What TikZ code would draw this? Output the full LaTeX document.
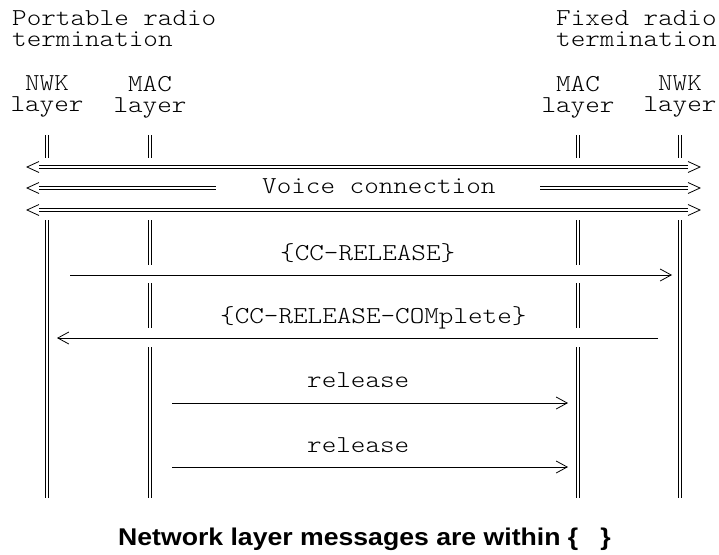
\documentclass[tikz,border=0pt]{standalone}
\usepackage{fontspec}
\newfontfamily\asciifont[FakeStretch=1.143]{lmmonolt10-regular.otf}
\newfontfamily\notefont[FakeStretch=1.1]{Liberation Sans}
\usetikzlibrary{arrows.meta}

\tikzset{
    txt/.style={font=\asciifont\fontsize{24.3}{21}\selectfont, inner sep=0pt},
    head/.style={txt, align=center, anchor=north},
    dbl/.style={line width=0.8pt, double, double distance=2.2pt},
    chev/.style={line width=0.8pt},
    msg/.style={line width=0.8pt, -{Straight Barb[length=11pt, width=12pt, line width=0.8pt]}},
}

\begin{document}
\begin{tikzpicture}[x=1pt, y=-1pt]
    \useasboundingbox (0,0) rectangle (719,554);

    \node[txt, align=left, anchor=north west] (prt) at (12, 10.7) {Portable radio\\termination};
    \node[txt, align=left, anchor=north west] (frt) at (556, 10.7) {Fixed radio\\termination};

    \node[head] (pnwk) at (47, 75.9) {NWK\\layer};
    \node[head] (pmac) at (150, 75.9) {MAC\\layer};
    \node[head] (fmac) at (578, 75.9) {MAC\\layer};
    \node[head] (fnwk) at (680, 75.9) {NWK\\layer};

    \draw[dbl] (47, 135) -- (47, 158);
    \draw[dbl] (150, 135) -- (150, 158);
    \draw[dbl] (578, 135) -- (578, 158);
    \draw[dbl] (680, 135) -- (680, 158);

    \coordinate (la1) at (27, 167);
    \coordinate (la2) at (27, 188);
    \coordinate (la3) at (27, 210);
    \coordinate (ra1) at (700, 167);
    \coordinate (ra2) at (700, 188);
    \coordinate (ra3) at (700, 210);
    \coordinate (l1) at (39, 167);
    \coordinate (r1) at (688, 167);
    \coordinate (l2) at (39, 188);
    \coordinate (l2e) at (216, 188);
    \coordinate (r2s) at (540, 188);
    \coordinate (r2) at (688, 188);
    \coordinate (l3) at (39, 210);
    \coordinate (r3) at (688, 210);

    \draw[dbl] (l1) -- (r1);
    \draw[dbl] (l2) -- (l2e);
    \draw[dbl] (r2s) -- (r2);
    \draw[dbl] (l3) -- (r3);
    \draw[chev] (la1) ++(12, -5.5) -- (la1) -- ++(12, 5.5);
    \draw[chev] (la2) ++(12, -5.5) -- (la2) -- ++(12, 5.5);
    \draw[chev] (la3) ++(12, -5.5) -- (la3) -- ++(12, 5.5);
    \draw[chev] (ra1) ++(-12, -5.5) -- (ra1) -- ++(-12, 5.5);
    \draw[chev] (ra2) ++(-12, -5.5) -- (ra2) -- ++(-12, 5.5);
    \draw[chev] (ra3) ++(-12, -5.5) -- (ra3) -- ++(-12, 5.5);
    \node[txt, anchor=base west] (voice) at (262, 193) {Voice connection};

    \draw[dbl] (47, 220) -- (47, 498);
    \draw[dbl] (680, 220) -- (680, 498);
    \draw[dbl] (150, 220) -- (150, 265);
    \draw[dbl] (150, 283) -- (150, 328);
    \draw[dbl] (150, 347) -- (150, 498);
    \draw[dbl] (578, 220) -- (578, 265);
    \draw[dbl] (578, 283) -- (578, 328);
    \draw[dbl] (578, 347) -- (578, 498);

    \coordinate (m1s) at (70, 275);
    \coordinate (m1e) at (672, 275);
    \coordinate (m2s) at (658, 338);
    \coordinate (m2e) at (57, 338);
    \coordinate (m3s) at (172, 403);
    \coordinate (m3e) at (568, 403);
    \coordinate (m4s) at (172, 467);
    \coordinate (m4e) at (568, 467);

    \draw[msg] (m1s) -- (m1e);
    \draw[msg] (m2s) -- (m2e);
    \draw[msg] (m3s) -- (m3e);
    \draw[msg] (m4s) -- (m4e);

    \node[txt, anchor=base west] (rls) at (280, 260) {\{CC-RELEASE\}};
    \node[txt, anchor=base west] (cmp) at (220, 323) {\{CC-RELEASE-COMplete\}};
    \node[txt, anchor=base west] (rel1) at (307, 387) {release};
    \node[txt, anchor=base west] (rel2) at (307, 452) {release};

    \node[font=\notefont\bfseries\fontsize{24.2}{29}\selectfont, inner sep=0pt, anchor=base west] (note) at (118, 545) {Network layer messages are within \{\ \ \ \}};
\end{tikzpicture}
\end{document}
